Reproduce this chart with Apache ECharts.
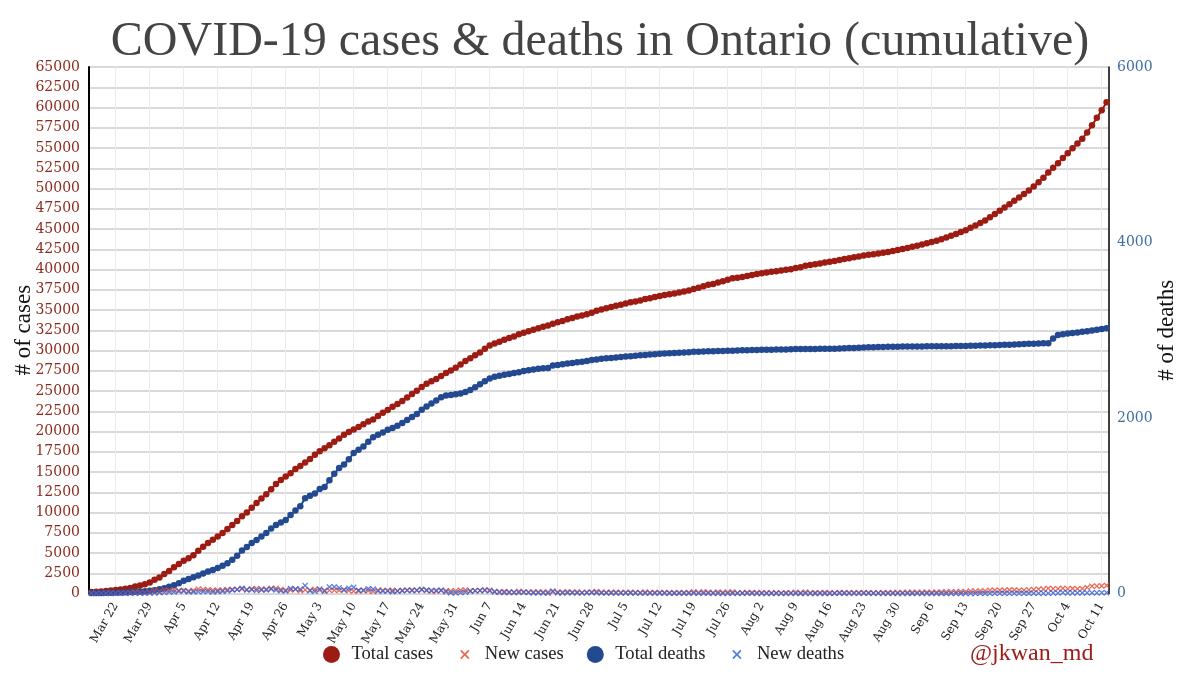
<!DOCTYPE html>
<html>
<head>
<meta charset="utf-8">
<script src="https://cdn.jsdelivr.net/npm/echarts@6/dist/echarts.min.js"></script>
<style>
html,body{margin:0;padding:0;background:#fff;}
#chart{width:1200px;height:691px;}
</style>
</head>
<body>
<div id="chart"></div>
<script>
const dates = [
"Mar 17","Mar 18","Mar 19","Mar 20","Mar 21","Mar 22","Mar 23","Mar 24","Mar 25","Mar 26","Mar 27","Mar 28","Mar 29","Mar 30","Mar 31",
"Apr 1","Apr 2","Apr 3","Apr 4","Apr 5","Apr 6","Apr 7","Apr 8","Apr 9","Apr 10","Apr 11","Apr 12","Apr 13","Apr 14","Apr 15","Apr 16","Apr 17","Apr 18","Apr 19","Apr 20","Apr 21","Apr 22","Apr 23","Apr 24","Apr 25","Apr 26","Apr 27","Apr 28","Apr 29","Apr 30",
"May 1","May 2","May 3","May 4","May 5","May 6","May 7","May 8","May 9","May 10","May 11","May 12","May 13","May 14","May 15","May 16","May 17","May 18","May 19","May 20","May 21","May 22","May 23","May 24","May 25","May 26","May 27","May 28","May 29","May 30","May 31",
"Jun 1","Jun 2","Jun 3","Jun 4","Jun 5","Jun 6","Jun 7","Jun 8","Jun 9","Jun 10","Jun 11","Jun 12","Jun 13","Jun 14","Jun 15","Jun 16","Jun 17","Jun 18","Jun 19","Jun 20","Jun 21","Jun 22","Jun 23","Jun 24","Jun 25","Jun 26","Jun 27","Jun 28","Jun 29","Jun 30",
"Jul 1","Jul 2","Jul 3","Jul 4","Jul 5","Jul 6","Jul 7","Jul 8","Jul 9","Jul 10","Jul 11","Jul 12","Jul 13","Jul 14","Jul 15","Jul 16","Jul 17","Jul 18","Jul 19","Jul 20","Jul 21","Jul 22","Jul 23","Jul 24","Jul 25","Jul 26","Jul 27","Jul 28","Jul 29","Jul 30","Jul 31",
"Aug 1","Aug 2","Aug 3","Aug 4","Aug 5","Aug 6","Aug 7","Aug 8","Aug 9","Aug 10","Aug 11","Aug 12","Aug 13","Aug 14","Aug 15","Aug 16","Aug 17","Aug 18","Aug 19","Aug 20","Aug 21","Aug 22","Aug 23","Aug 24","Aug 25","Aug 26","Aug 27","Aug 28","Aug 29","Aug 30","Aug 31",
"Sep 1","Sep 2","Sep 3","Sep 4","Sep 5","Sep 6","Sep 7","Sep 8","Sep 9","Sep 10","Sep 11","Sep 12","Sep 13","Sep 14","Sep 15","Sep 16","Sep 17","Sep 18","Sep 19","Sep 20","Sep 21","Sep 22","Sep 23","Sep 24","Sep 25","Sep 26","Sep 27","Sep 28","Sep 29","Sep 30",
"Oct 1","Oct 2","Oct 3","Oct 4","Oct 5","Oct 6","Oct 7","Oct 8","Oct 9","Oct 10","Oct 11","Oct 12"
];

const tickLabels = ["Mar 22","Mar 29","Apr 5","Apr 12","Apr 19","Apr 26","May 3","May 10","May 17","May 24","May 31","Jun 7","Jun 14","Jun 21","Jun 28","Jul 5","Jul 12","Jul 19","Jul 26","Aug 2","Aug 9","Aug 16","Aug 23","Aug 30","Sep 6","Sep 13","Sep 20","Sep 27","Oct 4","Oct 11"];

const totalCases = [
185,214,257,308,377,425,503,588,688,858,993,1144,1355,1706,1966,
2392,2793,3255,3630,4038,4347,4726,5276,5759,6237,6648,7049,7470,7953,8447,8961,9525,10010,10578,11184,11735,12245,12879,13519,14018,14432,14856,15381,15728,16187,
16608,17119,17553,17923,18310,18722,19121,19598,19944,20238,20546,20907,21236,21494,21922,22313,22653,23057,23384,23774,24187,24628,25040,25500,25904,26191,26483,26866,27210,27533,27859,
28263,28709,29047,29403,29747,30202,30617,30860,31090,31341,31544,31726,31992,32189,32370,32554,32744,32917,33095,33301,33476,33637,33853,34016,34205,34316,34476,34654,34911,35068,
35217,35370,35535,35656,35794,35948,36060,36178,36348,36464,36594,36723,36839,36950,37052,37163,37274,37402,37604,37739,37942,38107,38210,38405,38543,38722,38910,38986,39075,39209,39333,
39449,39550,39628,39714,39798,39873,39967,40046,40194,40289,40459,40546,40646,40745,40870,40972,41048,41179,41287,41402,41507,41607,41722,41813,41880,41960,42060,42170,42290,42400,42520,
42660,42800,42940,43090,43250,43400,43560,43750,43960,44170,44380,44620,44850,45150,45430,45740,46050,46440,46840,47240,47640,48070,48500,48900,49310,49750,50240,50780,51330,51960,
52550,53130,53770,54350,54970,55550,56150,56900,57800,58720,59660,60650
];

const newCases = [
32,29,43,51,69,48,78,85,100,170,135,151,211,351,260,
426,401,462,375,408,309,379,550,483,478,411,401,421,483,494,514,564,485,568,606,551,510,634,640,499,414,424,525,347,459,
421,511,434,370,387,412,399,477,346,294,308,361,329,258,428,391,340,404,327,390,413,441,412,460,404,287,292,383,344,323,326,
404,446,338,356,344,455,415,243,230,251,203,182,266,197,181,184,190,173,178,206,175,161,216,163,189,111,160,178,257,157,
149,153,165,121,138,154,112,118,170,116,130,129,116,111,102,111,111,128,202,135,203,165,103,195,138,179,188,76,89,134,124,
116,101,78,86,84,75,94,79,148,95,170,87,100,99,125,102,76,131,108,115,105,100,115,91,67,80,100,110,120,110,120,
140,140,140,150,160,150,160,190,210,210,210,240,230,300,280,310,310,390,400,400,400,430,430,400,410,440,490,540,550,630,
590,580,640,580,620,580,600,750,900,920,940,990
];

const totalDeaths = [
5,6,7,8,9,10,12,14,16,19,22,25,30,37,48,
60,76,93,118,146,165,184,205,228,250,268,290,315,345,385,430,490,530,575,610,650,690,740,780,810,838,895,945,995,1085,
1115,1140,1190,1215,1290,1365,1430,1470,1530,1600,1638,1676,1730,1780,1808,1835,1865,1885,1912,1942,1978,2010,2045,2093,2130,2165,2200,2237,2255,2263,2270,
2280,2295,2320,2350,2385,2420,2450,2470,2482,2492,2502,2512,2522,2535,2545,2552,2560,2566,2570,2598,2605,2612,2620,2628,2635,2642,2650,2660,2668,2675,
2680,2685,2690,2695,2700,2705,2710,2715,2719,2723,2727,2731,2735,2738,2741,2744,2747,2750,2754,2756,2758,2760,2762,2763,2764,2765,2767,2769,2771,2773,2775,
2776,2777,2778,2779,2780,2781,2782,2784,2785,2785,2786,2787,2787,2788,2788,2788,2790,2792,2795,2797,2799,2801,2803,2805,2807,2809,2810,2811,2812,2813,2814,
2815,2815,2816,2816,2817,2817,2818,2818,2818,2819,2820,2820,2821,2822,2823,2825,2826,2828,2830,2832,2834,2836,2838,2840,2842,2845,2847,2849,2851,2853,
2905,2945,2955,2962,2968,2975,2982,2990,2998,3006,3015,3024
];

const newDeaths = [
1,1,1,1,1,1,2,2,2,3,3,3,5,7,11,
12,16,17,25,28,19,19,21,23,22,18,22,25,30,40,45,60,40,45,35,40,40,50,40,30,28,57,50,50,90,
30,25,50,25,75,75,65,40,60,70,38,38,54,50,28,27,30,20,27,30,36,32,35,48,37,35,35,37,18,8,7,
10,15,25,30,35,35,30,20,12,10,10,10,10,13,10,7,8,6,4,28,7,7,8,8,7,7,8,10,8,7,
5,5,5,5,5,5,5,5,4,4,4,4,4,3,3,3,3,3,4,2,2,2,2,1,1,1,2,2,2,2,2,
1,1,1,1,1,1,1,2,1,0,1,1,0,1,0,0,2,2,3,2,2,2,2,2,2,2,1,1,1,1,1,
1,0,1,0,1,0,1,0,0,1,1,0,1,1,1,2,1,2,2,2,2,2,2,2,2,3,2,2,2,2,
6,5,10,7,6,7,7,8,8,8,9,9
];

const C_TOTAL_CASES = '#9c1c13';
const C_NEW_CASES = '#e5452f';
const C_TOTAL_DEATHS = '#234990';
const C_NEW_DEATHS = '#2c5fd6';

const xSym = 'path://M0,1.5L1.5,0L5,3.5L8.5,0L10,1.5L6.5,5L10,8.5L8.5,10L5,6.5L1.5,10L0,8.5L3.5,5Z';
const xLegend = 'path://M0,0L0.01,0L0,0.01Z M20,20L19.99,20L20,19.99Z M4.5,6L6,4.5L10,8.5L14,4.5L15.5,6L11.5,10L15.5,14L14,15.5L10,11.5L6,15.5L4.5,14L8.5,10Z';

const showTick = (idx, val) => tickLabels.indexOf(val) >= 0 || tickLabels.indexOf(dates[idx]) >= 0;
const plain = v => String(v);

const chart = echarts.init(document.getElementById('chart'), null, {renderer:'canvas'});
chart.setOption({
  animation: false,
  backgroundColor: '#ffffff',
  title: {
    text: 'COVID-19 cases & deaths in Ontario (cumulative)',
    left: 'center',
    top: 13,
    textStyle: {fontFamily: 'Liberation Serif', fontSize: 48, fontWeight: 'normal', color: '#444444'}
  },
  grid: {left: 89, right: 91, top: 67, bottom: 97.5, containLabel: false, outerBoundsMode: 'none'},
  legend: {
    left: 323,
    top: 645,
    padding: 0,
    itemGap: 23,
    itemWidth: 30,
    itemHeight: 17,
    textStyle: {fontFamily: 'Liberation Serif', fontSize: 18.6, color: '#222222'},
    data: [
      {name: 'Total cases', icon: 'circle'},
      {name: 'New cases', icon: xLegend},
      {name: 'Total deaths', icon: 'circle'},
      {name: 'New deaths', icon: xLegend}
    ]
  },
  graphic: [{
    type: 'text',
    x: 970,
    y: 654,
    style: {text: '@jkwan_md', fontFamily: 'Liberation Serif', fontSize: 24, fill: '#9b1b15', verticalAlign: 'middle', textVerticalAlign: 'middle'}
  }],
  xAxis: {
    type: 'category',
    data: dates,
    boundaryGap: true,
    axisLine: {show: false},
    axisTick: {show: false},
    axisLabel: {interval: showTick, rotate: 60, fontFamily: 'DejaVu Serif', fontSize: 12, color: '#222222', margin: 10},
    splitLine: {show: true, interval: showTick, alignWithLabel: true, lineStyle: {color: '#ebebeb', width: 1}}
  },
  yAxis: [{
    type: 'value',
    min: 0, max: 65000, interval: 2500,
    name: '# of cases',
    nameLocation: 'middle',
    nameRotate: 90,
    nameGap: 54,
    nameMoveOverlap: false,
    nameTextStyle: {fontFamily: 'Liberation Serif', fontSize: 23, color: '#111111'},
    axisLine: {show: true, lineStyle: {color: '#000000', width: 2}},
    axisTick: {show: false},
    axisLabel: {fontFamily: 'DejaVu Serif', fontSize: 14, color: '#8b2b1e', margin: 9, formatter: plain},
    splitLine: {show: true, lineStyle: {color: '#cccccc', width: 1.5}}
  }, {
    type: 'value',
    position: 'right',
    min: 0, max: 6000, interval: 2000,
    name: '# of deaths',
    nameLocation: 'middle',
    nameRotate: 90,
    nameGap: 46,
    nameMoveOverlap: false,
    nameTextStyle: {fontFamily: 'Liberation Serif', fontSize: 23, color: '#111111'},
    axisLine: {show: true, lineStyle: {color: '#000000', width: 1.5}},
    axisTick: {show: false},
    axisLabel: {fontFamily: 'DejaVu Serif', fontSize: 14, color: '#3d6ea5', margin: 8, formatter: plain},
    splitLine: {show: false}
  }],
  series: [{
    name: 'Total cases',
    type: 'line',
    yAxisIndex: 0,
    data: totalCases,
    symbol: 'circle',
    symbolSize: 6.5,
    showAllSymbol: true,
    lineStyle: {width: 2, color: C_TOTAL_CASES},
    itemStyle: {color: C_TOTAL_CASES},
    z: 3
  }, {
    name: 'New cases',
    type: 'scatter',
    yAxisIndex: 0,
    data: newCases,
    symbol: xSym,
    symbolSize: 6,
    itemStyle: {color: C_NEW_CASES},
    z: 4
  }, {
    name: 'Total deaths',
    type: 'line',
    yAxisIndex: 1,
    data: totalDeaths,
    symbol: 'circle',
    symbolSize: 6.5,
    showAllSymbol: true,
    lineStyle: {width: 2, color: C_TOTAL_DEATHS},
    itemStyle: {color: C_TOTAL_DEATHS},
    z: 3
  }, {
    name: 'New deaths',
    type: 'scatter',
    yAxisIndex: 1,
    data: newDeaths,
    symbol: xSym,
    symbolSize: 6,
    itemStyle: {color: C_NEW_DEATHS},
    z: 4
  }]
});
</script>
</body>
</html>
